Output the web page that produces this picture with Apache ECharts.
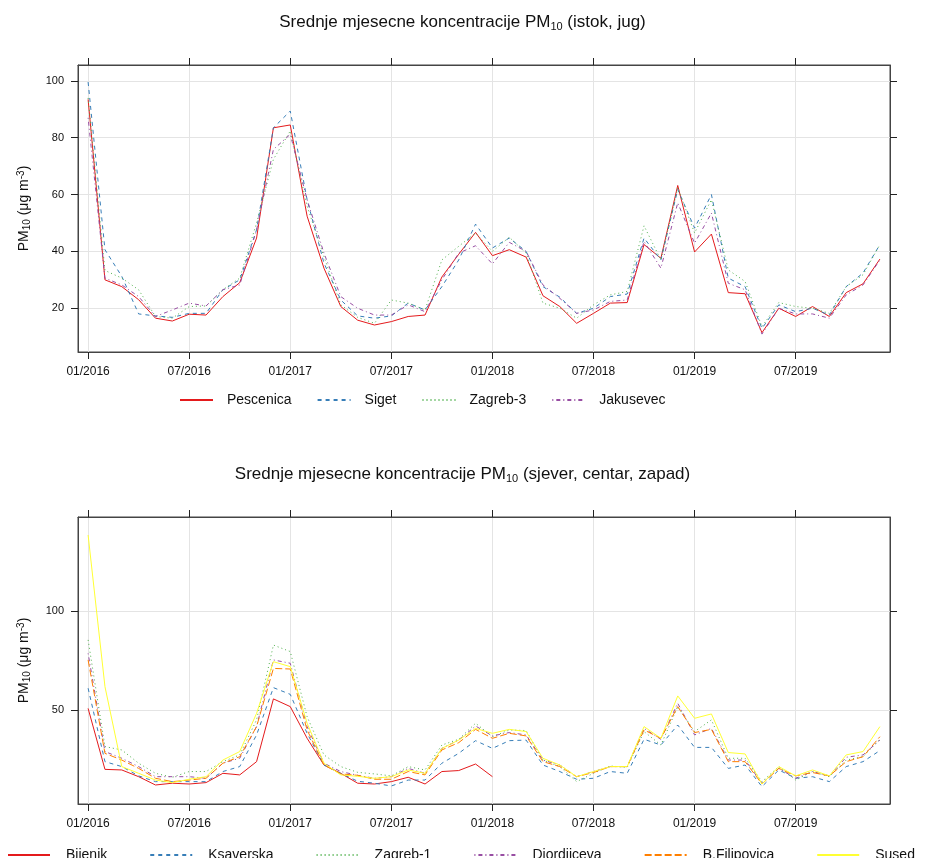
<!DOCTYPE html>
<html>
<head>
<meta charset="utf-8">
<script src="https://cdn.jsdelivr.net/npm/echarts@6/dist/echarts.min.js"></script>
<style>
  html, body { margin: 0; padding: 0; background: #fff; }
  #chart { width: 925px; height: 858px; }
</style>
</head>
<body>
<div id="chart"></div>
<script>
// month index 0 = 01/2016 ... 47 = 12/2019
var tickPos = [0, 6, 12, 18, 24, 30, 36, 42];
var tickLabels = ['01/2016', '07/2016', '01/2017', '07/2017', '01/2018', '07/2018', '01/2019', '07/2019'];
var topTicks = [20, 40, 60, 80, 100];
var bottomTicks = [50, 100];

// istok, jug
var pescenica = [93.5, 30, 27.6, 23, 16.5, 15.5, 17.9, 17.6, 24.1, 29, 44.7, 83.5, 84.5, 52.4, 34.1, 20.6, 15.8, 14.1, 15.3, 17.1, 17.6, 31, 39, 46.7, 38.5, 40.6, 38, 24.4, 20.6, 14.7, 18.2, 21.8, 22, 42.4, 37.6, 63.2, 39.8, 46.1, 25.5, 25.1, 11.4, 20, 17.1, 20.6, 17.1, 25.5, 28.6, 37.3];
var siget = [99.6, 40.6, 31.2, 18, 17.3, 16.8, 18.2, 18.2, 26.5, 30, 47.6, 83.5, 89.4, 58.2, 35.9, 22.9, 17.3, 16.5, 17.3, 21.8, 19.4, 27.6, 37, 49.6, 41.2, 44.7, 40, 27.6, 23.9, 18.2, 20, 24.1, 25, 44.7, 37, 61.8, 48.2, 60, 30.6, 27.6, 12.9, 21.2, 18.8, 20, 17.6, 27.6, 32.4, 42.4];
var zagreb3 = [94, 33.3, 30.6, 26.5, 17.1, 16.5, 20.6, 20.8, 26.5, 30.6, 50, 72.4, 82.4, 55.9, 38.2, 21.2, 16.8, 14.7, 22.9, 21.8, 19.4, 37, 41.8, 46.5, 40, 45, 39.4, 21.8, 20, 16.5, 21.2, 24.7, 25.9, 49, 37, 62.4, 46.5, 58.2, 33.5, 29.4, 13.5, 22, 20.6, 20, 18.2, 27.6, 31.8, 42.4];
var jakusevec = [87, 30.6, 28.2, 24.1, 17.1, 19.4, 21.8, 20.8, 26.5, 28.2, 47.6, 75.9, 81.2, 58.2, 39.4, 24.1, 20, 17.6, 17.6, 21.2, 18.8, 30, 39.4, 42, 35.6, 43.2, 40, 28.2, 23.5, 18.2, 19.4, 22.4, 22.9, 43.5, 34.1, 57.1, 42.9, 53.5, 28.8, 26.5, 10.9, 20, 18, 18, 16.5, 24.7, 28.2, 37];

// sjever, centar, zapad
var bijenik = [50.8, 20, 19.7, 16.3, 12.1, 13, 12.6, 13.3, 18, 17.2, 23.9, 55.6, 51.7, 35.7, 22.2, 18, 13, 12.6, 13.8, 16, 12.6, 18.9, 19.4, 22.7, 16.3, null, null, null, null, null, null, null, null, null, null, null, null, null, null, null, null, null, null, null, null, null, null, null];
var ksaverska = [61, 23.9, 21.4, 16.7, 13.8, 13.8, 13.8, 13.8, 18.9, 21.4, 37.4, 61.3, 57.9, 38.2, 22.2, 18, 14, 13, 11.6, 14.6, 14.6, 23.1, 28.1, 34.5, 30.6, 34.5, 34.8, 22.2, 18.9, 15, 15.5, 18.9, 18, 35.2, 32.3, 42.4, 31.1, 31.1, 20.5, 22.2, 11.3, 19.7, 15.5, 16.3, 13.8, 21.4, 23.9, 29.5];
var zagreb1 = [85.4, 31.5, 29.8, 23.1, 18, 16, 18.9, 18.9, 23.9, 27.3, 45, 82.8, 79.5, 46.6, 27.3, 21.4, 18.5, 17.7, 16.7, 21.4, 19.7, 32.3, 35.2, 43.3, 36.5, 39.9, 39.6, 24.7, 21.4, 13.8, 18, 21.7, 21, 39.1, 32.3, 51.7, 39.1, 45, 25.6, 25.6, 13.8, 21.4, 14.6, 18.9, 16.3, 24.7, 26.4, 35.2];
var djordjiceva = [78.6, 29, 25.6, 21.4, 16.3, 16.3, 16.3, 15.5, 23.1, 25.6, 41.6, 75.3, 73.6, 41.6, 23.1, 18.9, 17, 15.5, 16.3, 20.5, 18, 30.6, 34.8, 41.9, 36.9, 38.6, 37.4, 24.7, 22.2, 16.3, 18.9, 21.4, 21.4, 40.7, 35.2, 53.4, 37.4, 40.7, 24.7, 24.7, 13, 20.5, 15.5, 18.9, 16.7, 26.1, 27.3, 34.8];
var bFilipovica = [75.3, 28.1, 24.7, 20.5, 15.5, 13.8, 14.6, 15.5, 23.1, 26.4, 41.6, 71, 70.7, 39.9, 22.2, 17.7, 17, 15, 15, 18.9, 17.2, 29.8, 33.5, 40.2, 35.7, 38.2, 36.9, 23.9, 21.4, 16.3, 18.4, 21.4, 21.4, 39.9, 35.7, 51.7, 38.6, 40.2, 23.9, 23.9, 12.6, 20.5, 16.7, 18.4, 16.7, 23.9, 26.4, 36.5];
var sused = [138.4, 61.8, 21.4, 18, 14.6, 13.3, 15, 16.3, 24.7, 29, 48.3, 74.4, 71.9, 43.3, 23.1, 17.2, 16.5, 15.5, 16.3, 19.7, 18, 30.6, 34.8, 40.7, 38.2, 40.2, 39.1, 25.6, 22.2, 16.3, 18.9, 21.4, 21.4, 41.6, 35.7, 57.1, 45.8, 48, 28.5, 27.8, 12.6, 21.4, 16.7, 19.7, 16.7, 27.3, 29, 41.6];

var FONT = 'Liberation Sans, Arial, sans-serif';

function pairs(arr) {
  return arr.map(function (v, i) { return [i, v]; });
}

function line(name, arr, color, dash, grid) {
  return {
    name: name,
    type: 'line',
    xAxisIndex: grid * 2,
    yAxisIndex: grid * 2,
    data: pairs(arr),
    symbol: 'none',
    connectNulls: false,
    animation: false,
    lineStyle: { color: color, width: 1, type: dash },
    itemStyle: { color: color }
  };
}

function xAxes(grid) {
  var base = {
    gridIndex: grid,
    type: 'value',
    min: -0.6,
    max: 47.6,
    axisLine: { show: true, onZero: false, lineStyle: { color: '#444' } },
    axisTick: { show: true, length: 7, customValues: tickPos, lineStyle: { color: '#222' } }
  };
  return [
    Object.assign({}, base, {
      position: 'bottom',
      axisLabel: {
        customValues: tickPos,
        margin: 14,
        color: '#111',
        fontSize: 12,
        fontFamily: FONT,
        formatter: function (v) { return tickLabels[tickPos.indexOf(v)]; }
      },
      splitLine: { show: true, lineStyle: { color: '#e4e4e4' } }
    }),
    Object.assign({}, base, {
      position: 'top',
      axisLabel: { show: false },
      splitLine: { show: false }
    })
  ];
}

function yAxes(grid, min, max, ticks) {
  var base = {
    gridIndex: grid,
    type: 'value',
    min: min,
    max: max,
    axisLine: { show: true, onZero: false, lineStyle: { color: '#444' } },
    axisTick: { show: true, length: 7, customValues: ticks, lineStyle: { color: '#222' } }
  };
  return [
    Object.assign({}, base, {
      position: 'left',
      name: 'PM{s|10} (μg m{p|-3})',
      nameLocation: 'middle',
      nameRotate: 90,
      nameGap: 46,
      nameTextStyle: {
        color: '#111',
        fontSize: 14,
        fontFamily: FONT,
        rich: {
          s: { fontSize: 10, fontFamily: FONT, color: '#111', verticalAlign: 'bottom', padding: [6, 0, 0, 0] },
          p: { fontSize: 10, fontFamily: FONT, color: '#111', verticalAlign: 'top', padding: [0, 0, 6, 0] }
        }
      },
      axisLabel: { customValues: ticks, margin: 14, color: '#111', fontSize: 11, fontFamily: FONT },
      splitLine: { show: true, lineStyle: { color: '#e4e4e4' } }
    }),
    Object.assign({}, base, {
      position: 'right',
      axisLabel: { show: false },
      splitLine: { show: false }
    })
  ];
}

function titleText(part) {
  return '{a|Srednje mjesecne koncentracije PM}{s|10}{a| ' + part + '}';
}

var titleRich = {
  a: { fontSize: 17, fontWeight: 'normal', fontFamily: FONT, color: '#111' },
  s: { fontSize: 11, fontWeight: 'normal', fontFamily: FONT, color: '#111', verticalAlign: 'bottom', padding: [8, 0, 0, 0] }
};

var chart = echarts.init(document.getElementById('chart'), null, { renderer: 'canvas' });

var option = {
  animation: false,
  backgroundColor: '#fff',
  title: [
    { text: titleText('(istok, jug)'), left: 'center', top: 8, textStyle: { fontWeight: 'normal', rich: titleRich } },
    { text: titleText('(sjever, centar, zapad)'), left: 'center', top: 460, textStyle: { fontWeight: 'normal', rich: titleRich } }
  ],
  legend: [
    {
      data: ['Pescenica', 'Siget', 'Zagreb-3', 'Jakusevec'],
      left: 174,
      top: 388,
      itemWidth: 33,
      itemHeight: 10,
      itemGap: 25,
      itemStyle: { opacity: 0 },
      textStyle: { fontSize: 14, fontFamily: FONT, color: '#111', padding: [0, 0, 0, 9] }
    },
    {
      data: ['Bijenik', 'Ksaverska', 'Zagreb-1', 'Djordjiceva', 'B.Filipovica', 'Sused'],
      left: 2,
      top: 843,
      itemWidth: 42,
      itemHeight: 10,
      itemGap: 42,
      itemStyle: { opacity: 0 },
      textStyle: { fontSize: 14, fontFamily: FONT, color: '#111', padding: [0, 0, 0, 11] }
    }
  ],
  grid: [
    { left: 78, right: 35, top: 65, height: 287, show: true, borderColor: '#444', borderWidth: 1 },
    { left: 78, right: 35, top: 517, height: 287, show: true, borderColor: '#444', borderWidth: 1 }
  ],
  xAxis: xAxes(0).concat(xAxes(1)),
  yAxis: yAxes(0, 4.6, 105.6, topTicks).concat(yAxes(1, 2.5, 147.5, bottomTicks)),
  series: [
    line('Pescenica', pescenica, '#E41A1C', 'solid', 0),
    line('Siget', siget, '#377EB8', [4, 4], 0),
    line('Zagreb-3', zagreb3, '#4DAF4A', [1, 3], 0),
    line('Jakusevec', jakusevec, '#984EA3', [1, 3, 4, 3], 0),
    line('Bijenik', bijenik, '#E41A1C', 'solid', 1),
    line('Ksaverska', ksaverska, '#377EB8', [4, 4], 1),
    line('Zagreb-1', zagreb1, '#4DAF4A', [1, 3], 1),
    line('Djordjiceva', djordjiceva, '#984EA3', [1, 3, 4, 3], 1),
    line('B.Filipovica', bFilipovica, '#FF7F00', [7, 3], 1),
    line('Sused', sused, '#FFFF33', 'solid', 1)
  ]
};

chart.setOption(option);
</script>
</body>
</html>
